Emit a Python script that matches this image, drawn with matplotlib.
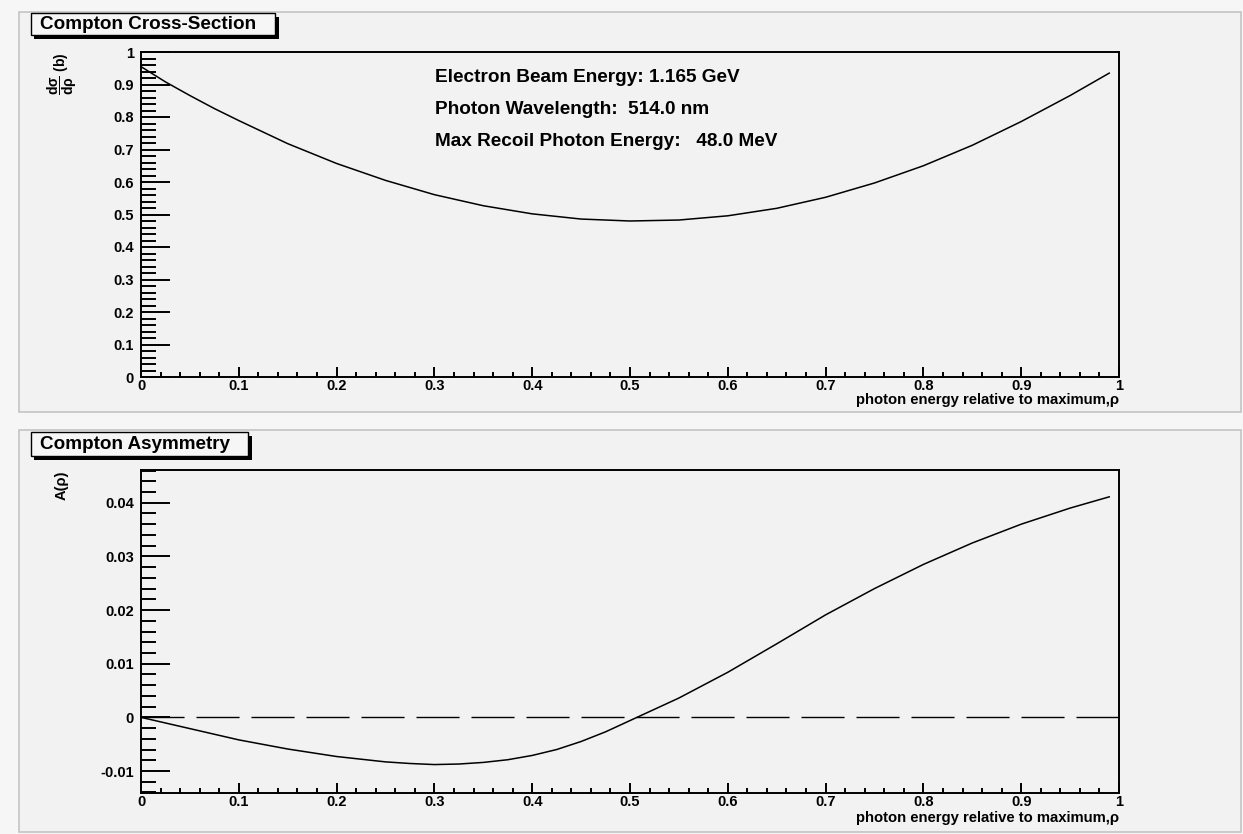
import matplotlib
matplotlib.use('Agg')
import matplotlib.pyplot as plt
from matplotlib.patches import Rectangle
from matplotlib.ticker import MultipleLocator, FuncFormatter

plt.rcParams['font.family'] = ['Liberation Sans', 'DejaVu Sans']
plt.rcParams['font.weight'] = 'bold'
plt.rcParams['mathtext.fontset'] = 'custom'
plt.rcParams['mathtext.rm'] = 'Liberation Sans:bold'
plt.rcParams['mathtext.bf'] = 'Liberation Sans:bold'
plt.rcParams['mathtext.it'] = 'Liberation Sans:bold'

# ---- data ----
rho_xs = [0.00, 0.025, 0.05, 0.075, 0.10, 0.15, 0.20, 0.25, 0.30, 0.35, 0.40, 0.45, 0.50,
          0.55, 0.60, 0.65, 0.70, 0.75, 0.80, 0.85, 0.90, 0.95, 0.99]
xsec = [0.955, 0.908, 0.866, 0.826, 0.789, 0.718, 0.657, 0.605, 0.561, 0.527, 0.502, 0.486,
        0.480, 0.483, 0.496, 0.519, 0.553, 0.597, 0.650, 0.713, 0.786, 0.866, 0.935]

rho_as = [0.00, 0.05, 0.10, 0.15, 0.20, 0.25, 0.275, 0.30, 0.325, 0.35, 0.375, 0.40,
          0.425, 0.45, 0.475, 0.50, 0.525, 0.55, 0.60, 0.65, 0.70, 0.75, 0.80, 0.85,
          0.90, 0.95, 0.99]
asym = [0.0000, -0.0021, -0.0042, -0.0059, -0.0073, -0.0083, -0.0086, -0.0088, -0.0087,
        -0.0084, -0.0079, -0.0071, -0.0060, -0.0045, -0.0027, -0.0006, 0.0015, 0.0036,
        0.0084, 0.0137, 0.0191, 0.0240, 0.0285, 0.0325, 0.0360, 0.0390, 0.0411]

info_lines = ['Electron Beam Energy: 1.165 GeV',
              'Photon Wavelength:  514.0 nm',
              'Max Recoil Photon Energy:   48.0 MeV']
xlabel = 'photon energy relative to maximum,\u03c1'

W, H = 1243, 834
PAD_BG = '#f2f2f2'

fig = plt.figure(figsize=(W / 100, H / 100), dpi=100)
fig.patch.set_facecolor('#f6f6f6')


def px_rect(x0, y0, x1, y1, **kw):
    # rectangle given in pixel coordinates (origin top-left)
    r = Rectangle((x0 / W, 1 - y1 / H), (x1 - x0) / W, (y1 - y0) / H,
                  transform=fig.transFigure, **kw)
    fig.patches.append(r)
    return r


# pads
for (y0, y1) in [(12, 412), (430, 832)]:
    px_rect(19, y0, 1241, y1, facecolor=PAD_BG, edgecolor='#c4c4c4', lw=1.2, zorder=-5)

# title boxes with shadow
for (x1, y0, y1, title) in [(275, 13, 35, 'Compton Cross-Section'),
                             (248, 432, 456, 'Compton Asymmetry')]:
    px_rect(34, y0 + 4, x1 + 4, y1 + 4, facecolor='black', edgecolor='black', lw=0, zorder=2)
    px_rect(31, y0, x1, y1, facecolor='#f6f6f6', edgecolor='black', lw=1.0, zorder=3)
    fig.text(40 / W, 1 - (y0 + y1 + 1) / 2 / H, title, ha='left', va='center',
             fontsize=13.6, fontweight='bold', zorder=4)


def root_axes(ax, ymaj, ymin, xlab_y):
    ax.set_facecolor('none')
    ax.set_xlim(0, 1)
    ax.xaxis.set_major_locator(MultipleLocator(0.1))
    ax.xaxis.set_minor_locator(MultipleLocator(0.02))
    ax.yaxis.set_major_locator(MultipleLocator(ymaj))
    ax.yaxis.set_minor_locator(MultipleLocator(ymin))
    fmt = FuncFormatter(lambda v, p: '%g' % round(v, 6))
    ax.xaxis.set_major_formatter(fmt)
    ax.yaxis.set_major_formatter(fmt)
    ax.tick_params(axis='x', which='major', direction='in', length=7, width=1.4,
                   pad=1.5, labelsize=10.5)
    ax.tick_params(axis='x', which='minor', direction='in', length=3.5, width=1.4)
    ax.tick_params(axis='y', which='major', direction='in', length=20.9, width=1.4,
                   pad=5, labelsize=10.5)
    ax.tick_params(axis='y', which='minor', direction='in', length=10.5, width=1.4)
    for s in ax.spines.values():
        s.set_linewidth(1.4)
    ax.text(1.0, xlab_y, xlabel, transform=ax.transAxes, ha='right', va='center',
            fontsize=10.7, fontweight='bold')


ax_l, ax_r = 141 / W, 1119 / W

# ---- top: cross-section ----
ax1 = fig.add_axes([ax_l, 1 - 377 / H, ax_r - ax_l, 325 / H])
root_axes(ax1, 0.1, 0.02, -0.07)
ax1.set_ylim(0, 1)
ax1.plot(rho_xs, xsec, color='black', lw=1.1)
ax1.text(-79 / 978, 1.0, r'$\mathbf{\dfrac{d\sigma}{d\rho}}$ (b)', transform=ax1.transAxes,
         rotation=90, ha='center', va='top', fontsize=10)
for i, line in enumerate(info_lines):
    fig.text(435 / W, 1 - (77 + 32 * i) / H, line, ha='left', va='center',
             fontsize=13.7, fontweight='bold')

# ---- bottom: asymmetry ----
ax2 = fig.add_axes([ax_l, 1 - 793 / H, ax_r - ax_l, 323 / H])
root_axes(ax2, 0.01, 0.002, -0.078)
ax2.set_ylim(-0.0141, 0.0461)
ax2.plot(rho_as, asym, color='black', lw=1.1)
ax2.axhline(0, color='black', lw=1.0, dashes=(31, 8.6))
ax2.text(-79 / 978, 1.0, 'A(\u03c1)', transform=ax2.transAxes,
         rotation=90, ha='center', va='top', fontsize=10.5)

fig.savefig('out.png', dpi=100, facecolor=fig.get_facecolor())
